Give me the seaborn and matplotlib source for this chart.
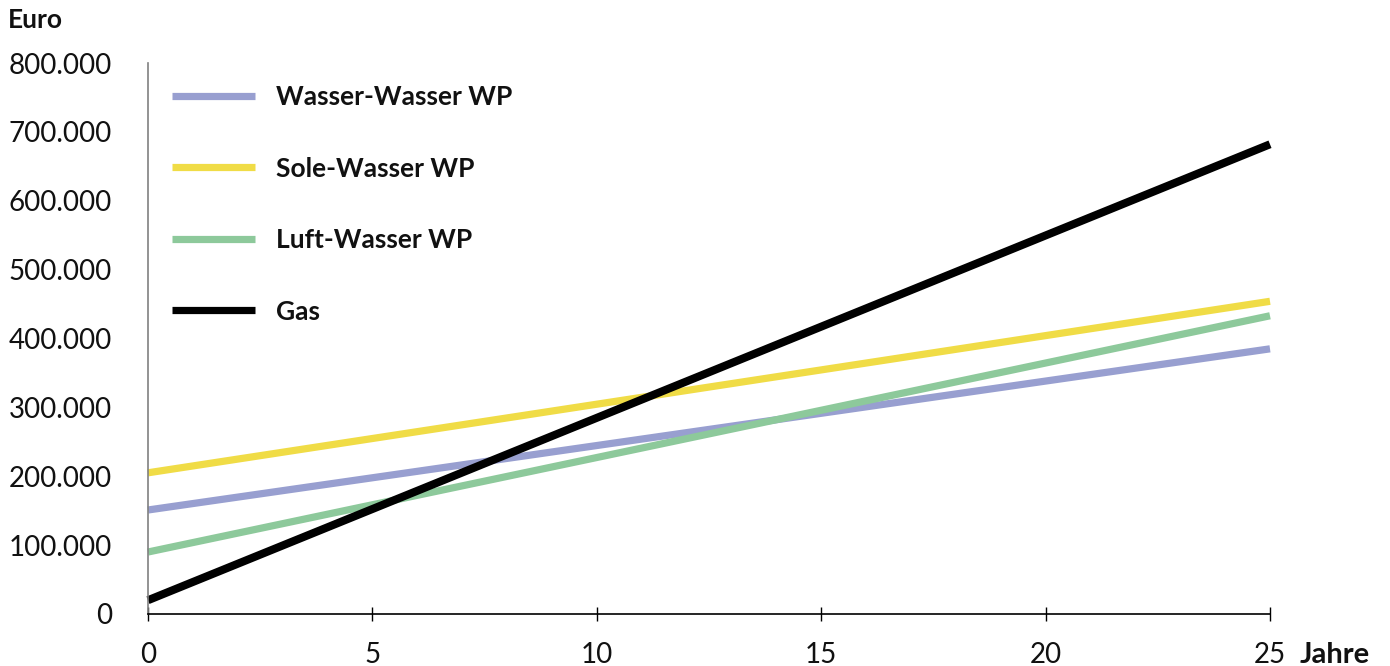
import matplotlib
matplotlib.use("Agg")
import matplotlib.pyplot as plt
import seaborn as sns
import pandas as pd

# Cumulative costs over 25 years (Euro)
jahre = [0, 25]
wasser_wasser = [151000, 385000]
sole_wasser = [205000, 454000]
luft_wasser = [90000, 433000]
gas = [20000, 682000]

serien = ["Wasser-Wasser WP", "Sole-Wasser WP", "Luft-Wasser WP", "Gas"]
farben = ["#989fd0", "#f0dc46", "#8dc99b", "#000000"]
y_ticks = [0, 100000, 200000, 300000, 400000, 500000, 600000, 700000, 800000]
x_ticks = [0, 5, 10, 15, 20, 25]

df = pd.DataFrame({
    "Jahre": jahre * 4,
    "Euro": wasser_wasser + sole_wasser + luft_wasser + gas,
    "Serie": [s for s in serien for _ in jahre],
})

sns.set_theme(style="white")
plt.rcParams["font.family"] = ["Lato", "DejaVu Sans"]

fig = plt.figure(figsize=(13.9, 6.66), dpi=100)
ax = fig.add_axes([148 / 1390, 1 - 614 / 666, (1270 - 148) / 1390, (614 - 63) / 666])

sns.lineplot(data=df, x="Jahre", y="Euro", hue="Serie", hue_order=serien,
             palette=farben, linewidth=5.2, ax=ax, legend=False)
for line in ax.lines:
    line.set_solid_capstyle("butt")
    line.set_clip_on(False)
ax.lines[-1].set_linewidth(5.8)

ax.set_xlim(0, 25)
ax.set_ylim(0, 800000)
ax.set_xticks(x_ticks)
ax.set_yticks(y_ticks)
ax.set_yticklabels(["0" if v == 0 else f"{v:,}".replace(",", ".") for v in y_ticks])
ax.set_xlabel("")
ax.set_ylabel("")

for s in ["top", "right"]:
    ax.spines[s].set_visible(False)
ax.spines["left"].set_color("#808080")
ax.spines["left"].set_linewidth(1.2)
ax.spines["bottom"].set_color("#000000")
ax.spines["bottom"].set_linewidth(1.2)

ax.tick_params(axis="x", direction="inout", length=10, width=1, color="#000000",
               pad=15, labelsize=20, labelcolor="#111111", bottom=True)
ax.tick_params(axis="y", length=0, pad=26, labelsize=20, labelcolor="#111111")

fig.text(8 / 1390, 1 - 20 / 666, "Euro", fontsize=19, fontweight="bold",
         ha="left", va="center", color="#111111")
fig.text(1300 / 1390, 1 - 655 / 666, "Jahre", fontsize=21, fontweight="bold",
         ha="left", va="center", color="#111111")

handles = [plt.Line2D([], [], color=c, linewidth=5.2, solid_capstyle="butt") for c in farben]
leg = ax.legend(handles, serien, loc="upper left", bbox_to_anchor=(0.0, 1.003),
                frameon=False, handlelength=3.14, handletextpad=0.8,
                labelspacing=1.8, prop={"weight": "bold", "size": 19})
for t in leg.get_texts():
    t.set_color("#111111")

fig.savefig("out.png", dpi=100, facecolor="white")
